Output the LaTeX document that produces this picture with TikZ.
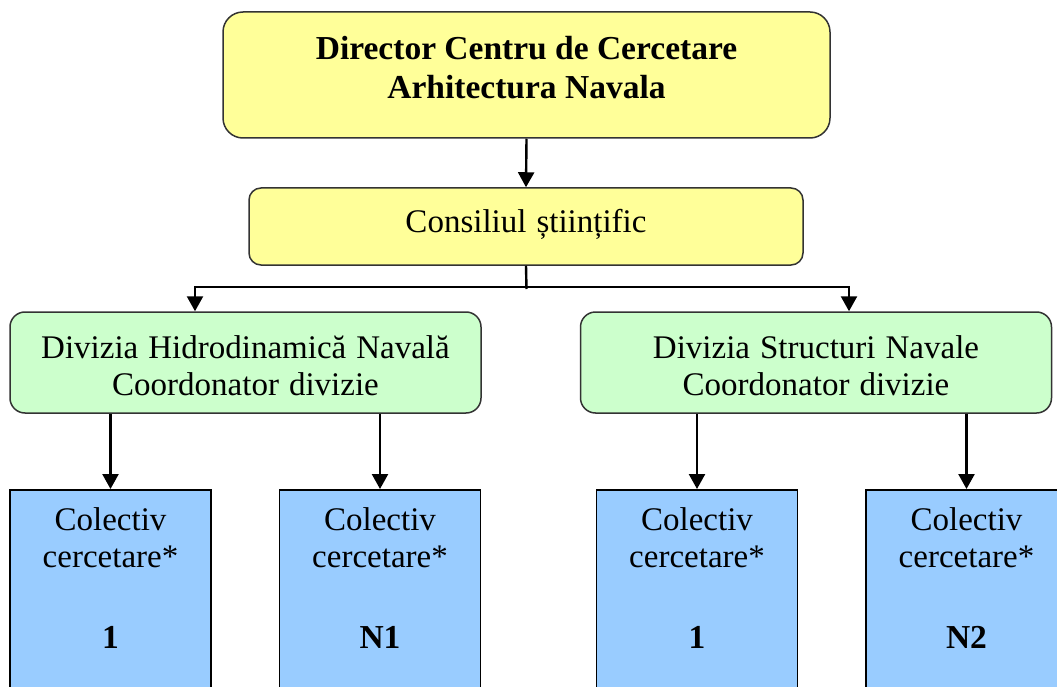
\documentclass[tikz,border=0pt]{standalone}
\usepackage{fontspec}
\setmainfont{Liberation Serif}
\usetikzlibrary{arrows.meta}
\definecolor{ybg}{HTML}{FFFF99}
\definecolor{gbg}{HTML}{CCFFCC}
\definecolor{bbg}{HTML}{99CCFF}
\definecolor{edgec}{HTML}{333333}
\newcommand\mywordsp{\spaceskip=10pt plus 2pt minus 2pt\relax}
\tikzset{
  box/.style={draw=edgec, line width=1.5pt, inner sep=0pt},
  ybox/.style={box, fill=ybg},
  gbox/.style={box, fill=gbg, rounded corners=15pt, minimum width=471pt, minimum height=101pt},
  bbox/.style={box, draw=black, fill=bbg, minimum width=201pt, minimum height=220pt, anchor=north},
  txt/.style={anchor=base, font=\fontsize{33}{37}\selectfont\mywordsp, inner sep=0pt},
  btxt/.style={anchor=base, font=\fontsize{33.5}{37}\selectfont\bfseries, inner sep=0pt},
  conn/.style={line width=2.4pt, draw=black},
  arr/.style={conn, -{Triangle[length=15pt,width=16pt]}},
}
\begin{document}
\begin{tikzpicture}[x=1pt,y=-1pt]
\useasboundingbox[fill=white] (0,0) rectangle (1057,687);

% boxes
\node[ybox, rounded corners=20pt, minimum width=607pt, minimum height=126pt] (dir) at (526.5,75) {};
\node[ybox, rounded corners=12pt, minimum width=554pt, minimum height=77pt] (cons) at (526,226.5) {};
\node[gbox] (hid) at (245.5,362.5) {};
\node[gbox] (str) at (816,362.5) {};
\node[bbox] (b1) at (110.5,489) {};
\node[bbox] (b2) at (380,489) {};
\node[bbox] (b3) at (697,489) {};
\node[bbox] (b4) at (966.5,489) {};

% texts
\node[btxt] (t1) at (526.5,60) {Director Centru de Cercetare};
\node[btxt] (t2) at (526.5,99) {Arhitectura Navala};
\node[txt] (t3) at (526,233) {Consiliul științific};
\node[txt] (t4) at (245.5,358) {Divizia Hidrodinamică Navală};
\node[txt] (t5) at (245.5,395) {Coordonator divizie};
\node[txt] (t6) at (816,358) {Divizia Structuri Navale};
\node[txt] (t7) at (816,395) {Coordonator divizie};

\foreach \n/\x/\lab in {1/110.5/1, 2/380/N1, 3/697/1, 4/966.5/N2}{
  \node[txt] (c\n) at (\x,530) {Colectiv};
  \node[txt] (r\n) at (\x,567) {cercetare*};
  \node[btxt] (n\n) at (\x,648) {\lab};
}

% connectors
\coordinate (j) at (526.5,287);
\coordinate (jl) at (195,287);
\coordinate (jr) at (849,287);
\draw[arr] (dir.south) -- (cons.north);
\draw[conn] (cons.south) -- ([yshift=-2pt]j);
\draw[arr] (j) -- (jl) -- (jl |- hid.north);
\draw[arr] (j) -- (jr) -- (jr |- str.north);
\draw[arr] (hid.south -| b1.north) -- (b1.north);
\draw[arr] (hid.south -| b2.north) -- (b2.north);
\draw[arr] (str.south -| b3.north) -- (b3.north);
\draw[arr] (str.south -| b4.north) -- (b4.north);
\end{tikzpicture}
\end{document}
